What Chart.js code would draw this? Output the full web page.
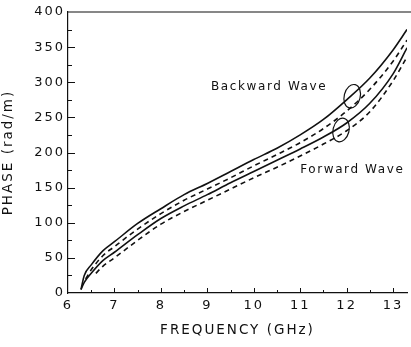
<!DOCTYPE html>
<html>
<head>
<meta charset="utf-8">
<script src="https://cdn.jsdelivr.net/npm/chart.js@4.4.1/dist/chart.umd.min.js"></script>
<style>
  html, body { margin: 0; padding: 0; background: #fff; }
  #wrap { width: 411px; height: 347px; }
</style>
</head>
<body>
<div id="wrap"><canvas id="phaseChart"></canvas></div>
<script>
// backward wave, solid and dashed
const freqA = [6.28, 6.35, 6.5, 6.75, 7, 7.5, 8, 8.5, 9, 9.5, 10, 10.5, 11, 11.5, 12, 12.5, 13, 13.3];
const phaseA = [5, 25, 40, 60, 73, 99, 120, 140, 156, 173, 190, 206, 225, 247, 275, 306, 346, 375];
const freqB = [6.38, 6.5, 6.75, 7, 7.5, 8, 8.5, 9, 9.5, 10, 10.5, 11, 11.5, 12, 12.5, 13, 13.3];
const phaseB = [20, 33, 53, 66, 91, 113, 132, 148, 164, 181, 197, 214, 234, 259, 290, 330, 360];
// forward wave, solid and dashed
const freqC = [6.28, 6.35, 6.5, 6.75, 7, 7.5, 8, 8.5, 9, 9.5, 10, 10.5, 11, 11.5, 12, 12.5, 13, 13.3];
const phaseC = [5, 15, 28, 46, 58, 83, 106, 124, 140, 157, 173, 189, 205, 222, 242, 270, 312, 349];
const freqD = [6.6, 6.75, 7, 7.5, 8, 8.5, 9, 9.5, 10, 10.5, 11, 11.5, 12, 12.5, 13, 13.3];
const phaseD = [28, 38, 50, 75, 98, 116, 132, 148, 164, 179, 195, 212, 231, 258, 302, 336];

const xTicks = [6, 7, 8, 9, 10, 11, 12, 13];
const yTicks = [0, 50, 100, 150, 200, 250, 300, 350, 400];

// annotations: label text and where they start (data units)
const notes = [
  { text: "Backward Wave", x: 9.08, y: 293 },
  { text: "Forward Wave", x: 11.0, y: 175 },
];
const rings = [
  { x: 12.12, y: 280 },
  { x: 11.88, y: 232 },
];

const pts = (xs, ys) => xs.map((x, i) => ({ x: x, y: ys[i] }));
const FONT = "'DejaVu Sans', sans-serif";

const extras = {
  id: "extras",
  beforeDraw(chart) {
    chart.ctx.letterSpacing = "2px";
  },
  afterDraw(chart) {
    const ctx = chart.ctx;
    const xs = chart.scales.x, ys = chart.scales.y;
    const a = chart.chartArea;
    ctx.save();
    ctx.strokeStyle = "#111";
    ctx.lineWidth = 1.2;
    // top frame line
    ctx.beginPath();
    ctx.moveTo(a.left, a.top);
    ctx.lineTo(chart.width, a.top);
    ctx.stroke();
    // inward tick marks
    ctx.lineWidth = 1;
    ctx.beginPath();
    for (let v = 6.5; v <= 13.3; v += 0.5) {
      const px = Math.round(xs.getPixelForValue(v)) + 0.5;
      const len = Number.isInteger(v) ? 5 : 3;
      ctx.moveTo(px, a.bottom);
      ctx.lineTo(px, a.bottom - len);
    }
    for (let v = 25; v < 400; v += 25) {
      const py = Math.round(ys.getPixelForValue(v)) + 0.5;
      const len = v % 50 === 0 ? 7 : 4;
      ctx.moveTo(a.left, py);
      ctx.lineTo(a.left + len, py);
    }
    ctx.stroke();
    // ellipses
    ctx.lineWidth = 1.2;
    rings.forEach((r) => {
      ctx.beginPath();
      ctx.ellipse(xs.getPixelForValue(r.x), ys.getPixelForValue(r.y), 8, 12, 0.25, 0, Math.PI * 2);
      ctx.stroke();
    });
    // labels
    ctx.fillStyle = "#111";
    ctx.font = "12px " + FONT;
    ctx.letterSpacing = "1.6px";
    ctx.textAlign = "left";
    ctx.textBaseline = "middle";
    notes.forEach((n) => {
      ctx.fillText(n.text, xs.getPixelForValue(n.x), ys.getPixelForValue(n.y));
    });
    ctx.restore();
  },
};

const solid = { borderColor: "#111", borderWidth: 1.6, pointRadius: 0, fill: false, cubicInterpolationMode: "monotone" };
const dashed = Object.assign({}, solid, { borderDash: [5, 4] });

new Chart(document.getElementById("phaseChart"), {
  type: "line",
  data: {
    datasets: [
      Object.assign({ label: "Backward (solid)", data: pts(freqA, phaseA) }, solid),
      Object.assign({ label: "Backward (dashed)", data: pts(freqB, phaseB) }, dashed),
      Object.assign({ label: "Forward (solid)", data: pts(freqC, phaseC) }, solid),
      Object.assign({ label: "Forward (dashed)", data: pts(freqD, phaseD) }, dashed),
    ],
  },
  options: {
    responsive: true,
    maintainAspectRatio: false,
    animation: false,
    layout: { padding: { left: 0, right: 4, top: 12, bottom: 0 } },
    plugins: { legend: { display: false }, tooltip: { enabled: false } },
    scales: {
      x: {
        type: "linear",
        min: 6,
        max: 13.3,
        afterBuildTicks: (s) => { s.ticks = xTicks.map((v) => ({ value: v })); },
        afterFit: (s) => { s.height = 54; },
        grid: { drawOnChartArea: false, drawTicks: false },
        border: { display: true, color: "#111", width: 1.2 },
        ticks: { color: "#111", font: { family: FONT, size: 13 }, padding: 5, maxRotation: 0 },
        title: { display: true, text: "FREQUENCY (GHz)", color: "#111", font: { family: FONT, size: 13.5 }, padding: { top: 0, bottom: 8 } },
      },
      y: {
        min: 0,
        max: 400,
        afterBuildTicks: (s) => { s.ticks = yTicks.map((v) => ({ value: v })); },
        afterFit: (s) => { s.width = 68; },
        grid: { drawOnChartArea: false, drawTicks: false },
        border: { display: true, color: "#111", width: 1.2 },
        ticks: { color: "#111", font: { family: FONT, size: 13 }, padding: 3 },
        title: { display: true, text: "PHASE (rad/m)", color: "#111", font: { family: FONT, size: 13.5 }, padding: { top: 0, bottom: 12 } },
      },
    },
  },
  plugins: [extras],
});
</script>
</body>
</html>
